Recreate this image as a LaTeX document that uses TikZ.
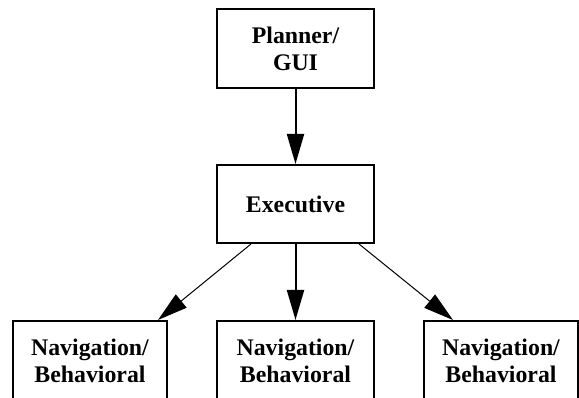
\documentclass[tikz,border=0pt]{standalone}
\usepackage{fontspec}
\setmainfont{Liberation Serif}
\usetikzlibrary{arrows.meta,calc}
\begin{document}
\begin{tikzpicture}[x=1pt,y=-1pt,
  box/.style={draw,line width=2pt,inner sep=0pt,minimum height=79pt,align=center,
    font=\fontsize{23.8}{27}\selectfont\bfseries},
  bigarrow/.style={line width=2pt,-{Triangle[length=30pt,width=17pt]}},
  thinarrow/.style={line width=1pt,-{Triangle[length=30pt,width=17pt]}}]
\useasboundingbox[fill=white] (0,0) rectangle (579,398);
\node[box,minimum width=157pt] (plan) at (295.5,48.5) {Planner/\\GUI};
\node[box,minimum width=157pt,minimum height=78pt] (exec) at (295.5,204) {Executive};
\node[box,minimum width=154pt] (nav1) at (90,360.5) {Navigation/\\Behavioral};
\node[box,minimum width=157pt] (nav2) at (295.5,360.5) {Navigation/\\Behavioral};
\node[box,minimum width=154pt] (nav3) at (501,360.5) {Navigation/\\Behavioral};
\draw[bigarrow] (plan.south) -- (exec.north);
\draw[bigarrow] (exec.south) -- (nav2.north);
\draw[thinarrow] ($(exec.south)+(-44.5,0)$) -- ($(nav1.north east)+(-10,0)$);
\draw[thinarrow] ($(exec.south)+(63.5,0)$) -- ($(nav3.north west)+(30,0)$);
\end{tikzpicture}
\end{document}
